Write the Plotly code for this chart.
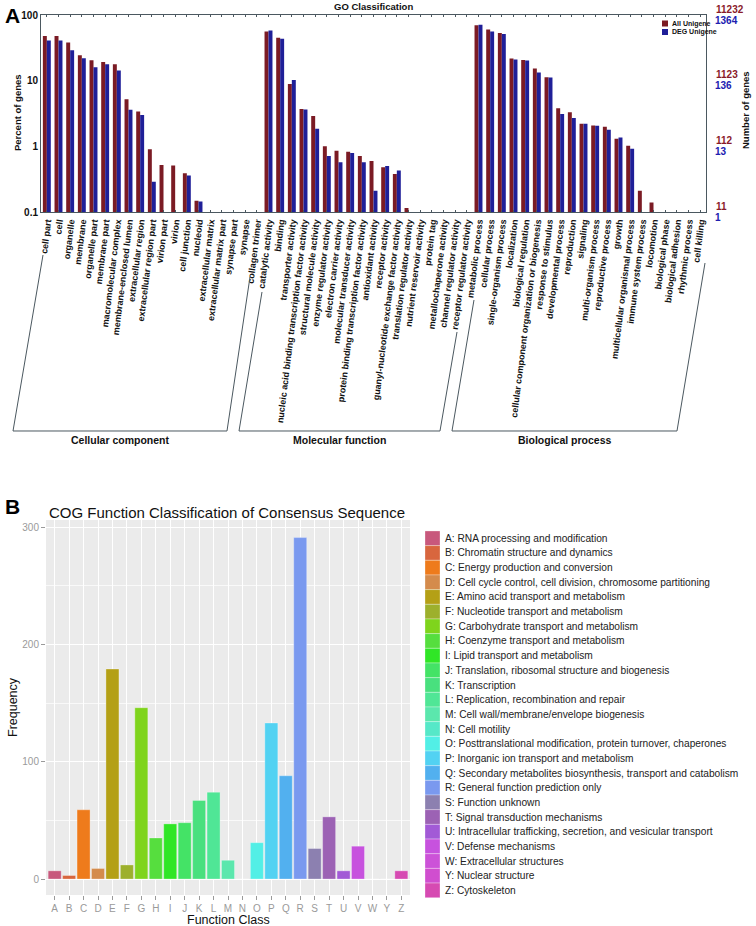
import plotly.graph_objects as go

W, H = 756, 926
def X(px): return px / W
def Y(py): return 1 - py / H

# ---------------- Panel A data ----------------
go_terms = [
    "cell part", "cell", "organelle", "membrane", "organelle part", "membrane part",
    "macromolecular complex", "membrane-enclosed lumen", "extracellular region",
    "extracellular region part", "virion part", "virion", "cell junction", "nucleoid",
    "extracellular matrix", "extracellular matrix part", "synapse part", "synapse",
    "collagen trimer",
    "catalytic activity", "binding", "transporter activity",
    "nucleic acid binding transcription factor activity", "structural molecule activity",
    "enzyme regulator activity", "electron carrier activity", "molecular transducer activity",
    "protein binding transcription factor activity", "antioxidant activity", "receptor activity",
    "guanyl-nucleotide exchange factor activity", "translation regulator activity",
    "nutrient reservoir activity", "protein tag", "metallochaperone activity",
    "channel regulator activity", "receptor regulator activity",
    "metabolic process", "cellular process", "single-organism process", "localization",
    "biological regulation", "cellular component organization or biogenesis",
    "response to stimulus", "developmental process", "reproduction", "signaling",
    "multi-organism process", "reproductive process", "growth",
    "multicellular organismal process", "immune system process", "locomotion",
    "biological phase", "biological adhesion", "rhythmic process", "cell killing",
]
all_unigene_pct = [
    48, 48, 38, 24.4, 20.5, 19.3, 17.8, 5.2, 3.4, 0.9, 0.52, 0.51, 0.39, 0.149,
    None, None, None, None, None,
    56, 45, 8.9, 3.7, 2.9, 1.0, 0.86, 0.83, 0.71, 0.6, 0.48, 0.38, 0.115,
    None, None, None, None, None,
    70, 60, 53, 21.7, 20.7, 15.3, 11.3, 3.8, 3.3, 2.2, 2.08, 1.99, 1.31, 1.02, 0.21, 0.14,
    None, None, None, None,
]
deg_unigene_pct = [
    41, 41, 29, 22, 16, 17.8, 14.3, 3.6, 3.0, 0.29, None, None, 0.36, 0.145,
    None, None, None, None, None,
    58, 43.6, 10.2, 3.65, 1.85, 0.71, 0.57, 0.79, 0.57, 0.21, 0.5, 0.43, None,
    None, None, None, None, None,
    71, 56, 51.5, 21, 20.3, 13.3, 11.2, 3.1, 2.7, 2.2, 2.05, 1.79, 1.36, 0.92, None, None,
    None, None, None, None,
]
left_tickvals = [0.1, 1, 10, 100]
left_ticktext = ["0.1", "1", "10", "100"]
right_ticks_all = ["11", "112", "1123", "11232"]
right_ticks_deg = ["1", "13", "136", "1364"]
group_names = ["Cellular component", "Molecular function", "Biological process"]

# ---------------- Panel B data ----------------
cog_classes = ["A", "B", "C", "D", "E", "F", "G", "H", "I", "J", "K", "L", "M", "N",
               "O", "P", "Q", "R", "S", "T", "U", "V", "W", "Y", "Z"]
cog_freq = [7, 3, 59, 9, 179, 12, 146, 35, 47, 48, 67, 74, 16, 0,
            31, 133, 88, 291, 26, 53, 7, 28, 0, 0, 7]
cog_desc = [
    "RNA processing and modification",
    "Chromatin structure and dynamics",
    "Energy production and conversion",
    "Cell cycle control, cell division, chromosome partitioning",
    "Amino acid transport and metabolism",
    "Nucleotide transport and metabolism",
    "Carbohydrate transport and metabolism",
    "Coenzyme transport and metabolism",
    "Lipid transport and metabolism",
    "Translation, ribosomal structure and biogenesis",
    "Transcription",
    "Replication, recombination and repair",
    "Cell wall/membrane/envelope biogenesis",
    "Cell motility",
    "Posttranslational modification, protein turnover, chaperones",
    "Inorganic ion transport and metabolism",
    "Secondary metabolites biosynthesis, transport and catabolism",
    "General function prediction only",
    "Function unknown",
    "Signal transduction mechanisms",
    "Intracellular trafficking, secretion, and vesicular transport",
    "Defense mechanisms",
    "Extracellular structures",
    "Nuclear structure",
    "Cytoskeleton",
]
cog_colors = ["#c8587c", "#d8663e", "#ee7b1c", "#d48b4c", "#b4a016", "#9db02c",
              "#7fd41c", "#56de3e", "#30e626", "#44e366", "#49e07e", "#50e696",
              "#5be7ad", "#56e8c8", "#52efe6", "#52d2f2", "#52b0ef", "#7a99ef",
              "#8c80b0", "#9c62b4", "#a25ad6", "#c752de", "#cc52d8", "#d04ecf", "#d64ab2"]

RED = "#7b1b24"
BLUE = "#1f1f98"
FRAME = "#4b5860"
FONT_A = "Liberation Sans Narrow, Arial Narrow, Liberation Sans, Arial, sans-serif"
FONT_B = "Liberation Sans, Arial, Helvetica, sans-serif"

fig = go.Figure()
fig.add_trace(go.Bar(x=go_terms, y=all_unigene_pct, name="All Unigene",
                     marker=dict(color=RED, line=dict(width=0)),
                     xaxis="x", yaxis="y", showlegend=False))
fig.add_trace(go.Bar(x=go_terms, y=deg_unigene_pct, name="DEG Unigene",
                     marker=dict(color=BLUE, line=dict(width=0)),
                     xaxis="x", yaxis="y", showlegend=False))
fig.add_trace(go.Bar(x=cog_classes, y=cog_freq, width=0.9,
                     marker=dict(color=cog_colors, line=dict(color="rgba(255,255,255,0.5)", width=0.6)),
                     xaxis="x2", yaxis="y2", showlegend=False))

shapes = []
annotations = []

# Panel B background
shapes.append(dict(type="rect", xref="paper", yref="paper", layer="below",
                   x0=X(46), x1=X(410), y0=Y(895), y1=Y(520),
                   fillcolor="#ebebeb", line=dict(width=0)))

# Brackets for panel A
def path(points):
    d = "M " + " L ".join(f"{X(px):.5f},{Y(py):.5f}" for px, py in points)
    return dict(type="path", xref="paper", yref="paper", path=d,
                line=dict(color=FRAME, width=1))
shapes.append(path([(43, 255), (13, 431), (227, 431), (250, 277)]))
shapes.append(path([(262, 292), (239, 431), (440, 431), (457, 332)]))
shapes.append(path([(474, 300), (452, 431), (677, 431), (705, 263)]))
for name, cx in zip(group_names, [120, 339, 565]):
    annotations.append(dict(text=f"<b>{name}</b>", x=X(cx), y=Y(440), xref="paper", yref="paper",
                            showarrow=False, font=dict(family=FONT_A, size=10.5, color="#111"),
                            xanchor="center", yanchor="middle"))

# Right-side numbers (Number of genes)
for i, (ta, td) in enumerate(zip(right_ticks_all, right_ticks_deg)):
    lv = i - 1
    annotations.append(dict(text=f"<b>{ta}</b>", x=X(714), y=lv, xref="paper", yref="y",
                            yshift=6, showarrow=False, xanchor="left", yanchor="middle",
                            font=dict(family=FONT_A, size=10, color="#8a1a2a")))
    annotations.append(dict(text=f"<b>{td}</b>", x=X(713), y=lv, xref="paper", yref="y",
                            yshift=-5, showarrow=False, xanchor="left", yanchor="middle",
                            font=dict(family=FONT_A, size=10, color="#2020b0")))
annotations.append(dict(text="<b>Number of genes</b>", x=X(745), y=Y(110), xref="paper", yref="paper",
                        textangle=-90, showarrow=False, xanchor="center", yanchor="middle",
                        font=dict(family=FONT_A, size=9.5, color="#111")))
annotations.append(dict(text="<b>Percent of genes</b>", x=X(17), y=Y(113), xref="paper", yref="paper",
                        textangle=-90, showarrow=False, xanchor="center", yanchor="middle",
                        font=dict(family=FONT_A, size=9.5, color="#111")))
annotations.append(dict(text="<b>GO Classification</b>", x=X(373), y=Y(7), xref="paper", yref="paper",
                        showarrow=False, xanchor="center", yanchor="middle",
                        font=dict(family=FONT_A, size=9.5, color="#111")))
annotations.append(dict(text="<b>A</b>", x=X(3), y=Y(16), xref="paper", yref="paper",
                        showarrow=False, xanchor="left", yanchor="middle",
                        font=dict(family="Liberation Sans, Arial", size=21, color="#000")))
annotations.append(dict(text="<b>B</b>", x=X(3), y=Y(507), xref="paper", yref="paper",
                        showarrow=False, xanchor="left", yanchor="middle",
                        font=dict(family="Liberation Sans, Arial", size=21, color="#000")))

# Panel A legend
for k, (lbl, col) in enumerate([("All Unigene", RED), ("DEG Unigene", BLUE)]):
    cy = 23.5 + k * 8.5
    shapes.append(dict(type="rect", xref="paper", yref="paper",
                       x0=X(662), x1=X(668), y0=Y(cy + 3), y1=Y(cy - 3),
                       fillcolor=col, line=dict(width=0)))
    annotations.append(dict(text=f"<b>{lbl}</b>", x=X(670), y=Y(cy), xref="paper", yref="paper",
                            showarrow=False, xanchor="left", yanchor="middle",
                            font=dict(family=FONT_A, size=7, color="#111")))

# Panel B title and axis titles
annotations.append(dict(text="COG Function Classification of Consensus Sequence", x=X(227), y=Y(512),
                        xref="paper", yref="paper", showarrow=False, xanchor="center", yanchor="middle",
                        font=dict(family=FONT_B, size=15, color="#111")))
annotations.append(dict(text="Frequency", x=X(13), y=Y(707), xref="paper", yref="paper", textangle=-90,
                        showarrow=False, xanchor="center", yanchor="middle",
                        font=dict(family=FONT_B, size=12.5, color="#111")))
annotations.append(dict(text="Function Class", x=X(228), y=Y(920), xref="paper", yref="paper",
                        showarrow=False, xanchor="center", yanchor="middle",
                        font=dict(family=FONT_B, size=12.5, color="#111")))

# Panel B legend
row_h = 14.67
top0 = 538.3
for i, (c, d, col) in enumerate(zip(cog_classes, cog_desc, cog_colors)):
    cy = top0 + i * row_h
    shapes.append(dict(type="rect", xref="paper", yref="paper",
                       x0=X(425), x1=X(440), y0=Y(cy + row_h / 2), y1=Y(cy - row_h / 2),
                       fillcolor=col, line=dict(color="rgba(255,255,255,0.6)", width=0.5)))
    annotations.append(dict(text=f"{c}: {d}", x=X(443), y=Y(cy), xref="paper", yref="paper",
                            showarrow=False, xanchor="left", yanchor="middle",
                            font=dict(family=FONT_B, size=10.2, color="#222")))

fig.update_layout(
    width=W, height=H, autosize=False,
    margin=dict(l=0, r=0, t=0, b=0),
    paper_bgcolor="white", plot_bgcolor="rgba(0,0,0,0)",
    barmode="group", bargap=0.32, bargroupgap=0.0,
    showlegend=False,
    shapes=shapes, annotations=annotations,
    xaxis=dict(domain=[X(41), X(706)], anchor="y", type="category",
               tickmode="array", tickvals=go_terms, ticktext=[f"<b>{t}</b>" for t in go_terms],
               tickangle=-83, tickfont=dict(family=FONT_A, size=9, color="#111"),
               showline=True, linecolor=FRAME, linewidth=1, mirror="ticks",
               ticks="inside", ticklen=2, tickcolor=FRAME, showgrid=False, automargin=False),
    yaxis=dict(domain=[Y(212), Y(15)], anchor="x", type="log", range=[-1, 2],
               tickmode="array", tickvals=left_tickvals, ticktext=[f"<b>{t}</b>" for t in left_ticktext],
               tickfont=dict(family=FONT_A, size=10, color="#111"),
               showline=True, linecolor=FRAME, linewidth=1, mirror=True,
               ticks="", showgrid=False, zeroline=False, automargin=False),
    xaxis2=dict(domain=[X(46), X(410)], anchor="y2", type="category",
                range=[-0.6, len(cog_classes) - 0.4],
                tickfont=dict(family=FONT_B, size=10, color="#9a9a9a"),
                ticks="outside", ticklen=4, tickcolor="#9a9a9a", tickwidth=1,
                showgrid=True, gridcolor="white", gridwidth=1.2,
                showline=False, zeroline=False, automargin=False),
    yaxis2=dict(domain=[Y(895), Y(520)], anchor="x2", range=[-13.6, 306],
                tickvals=[0, 100, 200, 300],
                tickfont=dict(family=FONT_B, size=10, color="#9a9a9a"),
                ticks="outside", ticklen=4, tickcolor="#9a9a9a",
                showgrid=True, gridcolor="white", gridwidth=1.3,
                minor=dict(tickvals=[50, 150, 250], showgrid=True, gridcolor="rgba(255,255,255,0.7)", gridwidth=0.6),
                showline=False, zeroline=False, automargin=False),
)

fig.write_html("out.html", config={"displayModeBar": False},
               post_script="document.body.style.margin='0px';document.body.style.overflow='hidden';")
